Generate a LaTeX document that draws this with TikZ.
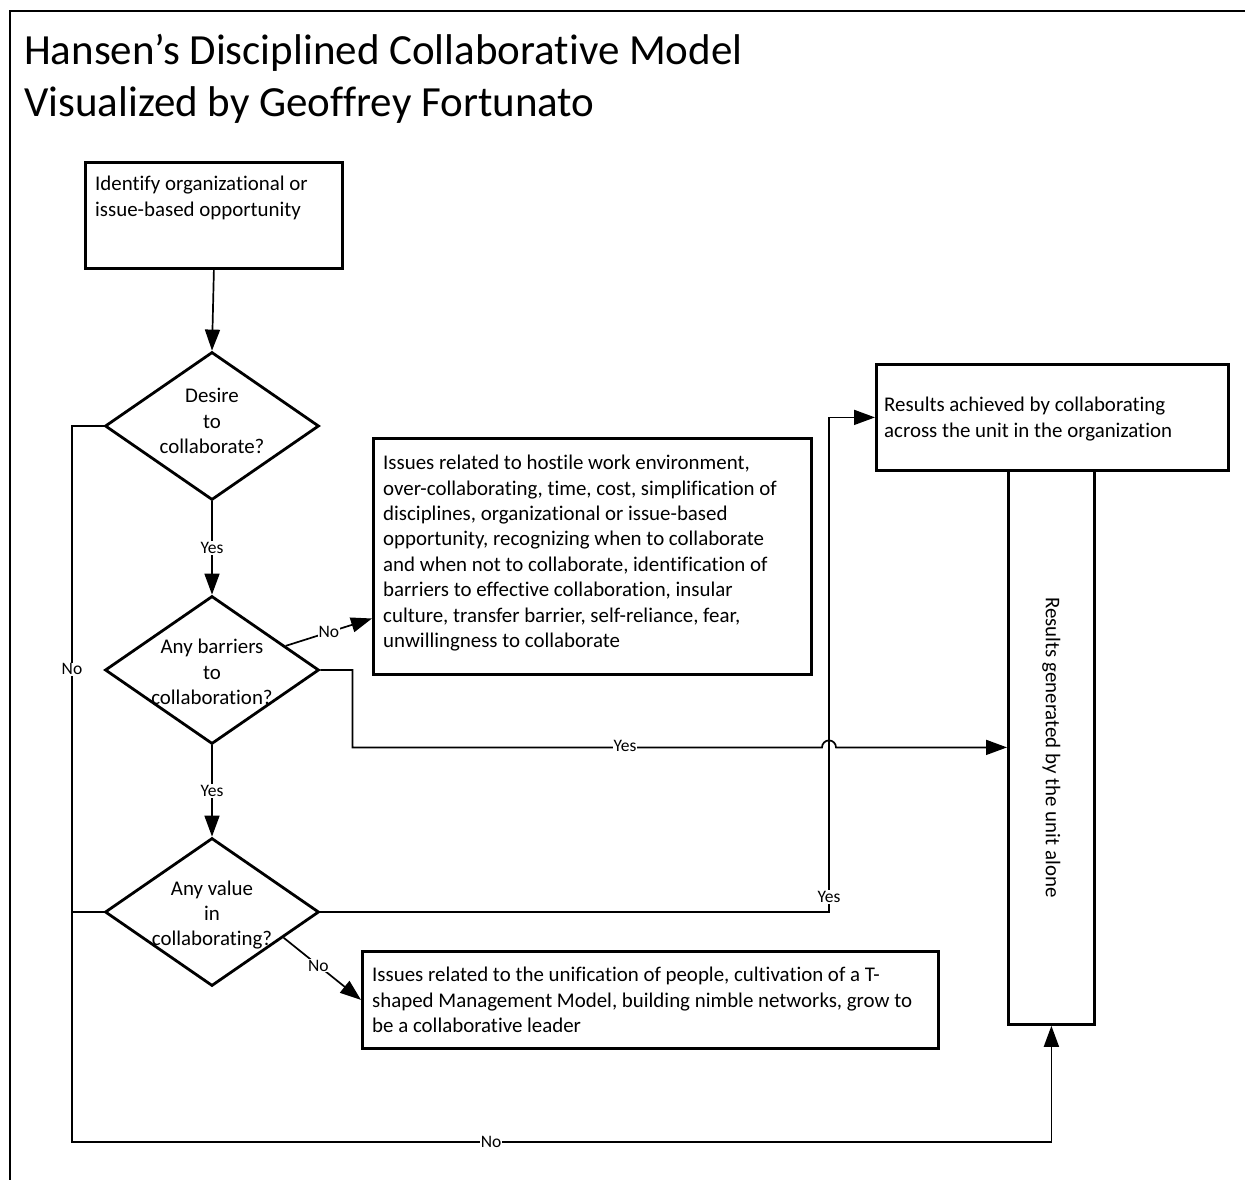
\documentclass[tikz,border=0pt]{standalone}
\usepackage{fontspec}
\setmainfont{Carlito}[Ligatures=NoCommon]
\usetikzlibrary{shapes.geometric,arrows.meta,calc}

\begin{document}
\begin{tikzpicture}[x=1pt,y=-1pt,
  box/.style={draw,line width=2.8pt,rectangle,anchor=north west,inner sep=0pt},
  decision/.style={draw,line width=2.8pt,diamond,minimum width=214pt,minimum height=148pt,inner sep=0pt},
  txt/.style={font=\fontsize{20.9}{25.4}\selectfont,align=left,anchor=north west,inner sep=0pt},
  dtxt/.style={font=\fontsize{20.9}{25.4}\selectfont,align=center,inner sep=0pt},
  conn/.style={line width=1.7pt},
  arr/.style={conn,-{Triangle[length=21pt,width=15pt]}},
  lbl/.style={font=\fontsize{17.5}{20}\selectfont,fill=white,inner sep=1pt}]
\useasboundingbox (0,0) rectangle (1245,1180);
\draw[line width=2pt] (10,1180) -- (10,11) -- (1245,11);

\node[anchor=north west,align=left,inner sep=0pt,font=\fontsize{43}{52}\selectfont] (title) at (24,34)
  {Hansen’s Disciplined Collaborative Model\\Visualized by Geoffrey Fortunato};

% boxes
\node[box,minimum width=257pt,minimum height=106pt] (ident) at (84,161) {};
\node[txt] (identtxt) at (95,176) {Identify organizational or\\issue-based opportunity};

\node[box,minimum width=438pt,minimum height=236pt] (barr) at (372,437) {};
\node[txt] (barrtxt) at (383,455) {Issues related to hostile work environment,\\over-collaborating, time, cost, simplification of\\disciplines, organizational or issue-based\\opportunity, recognizing when to collaborate\\and when not to collaborate, identification of\\barriers to effective collaboration, insular\\culture, transfer barrier, self-reliance, fear,\\unwillingness to collaborate};

\node[box,minimum width=352pt,minimum height=106pt] (res) at (875,363) {};
\node[txt] (restxt) at (884,397) {Results achieved by collaborating\\across the unit in the organization};

\node[box,minimum width=86pt,minimum height=554pt] (tall) at (1007,469) {};
\node[dtxt,rotate=-90] (talltxt) at (tall.center) {Results generated by the unit alone};

\node[box,minimum width=576pt,minimum height=97pt] (unif) at (361,950) {};
\node[txt] (uniftxt) at (372,967) {Issues related to the unification of people, cultivation of a T-\\shaped Management Model, building nimble networks, grow to\\be a collaborative leader};

% decisions
\node[decision] (d1) at (212,426) {};
\node[dtxt] (d1txt) at (212,421) {Desire\\to\\collaborate?};
\node[decision] (d2) at (212,670) {};
\node[dtxt] (d2txt) at (212,672) {Any barriers\\to\\collaboration?};
\node[decision] (d3) at (212,912) {};
\node[dtxt] (d3txt) at (212,915) {Any value\\in\\collaborating?};

\coordinate (bend) at (829,912);
\coordinate (nobot) at (72,1142);

% connectors
\draw[arr] (ident.south) -- (d1.north);
\draw[arr] (d1.south) -- node[lbl]{Yes} (d2.north);
\draw[arr] (d2.south) -- node[lbl]{Yes} (d3.north);
\draw[arr] ($(d2.north)!0.68!(d2.east)$) -- node[lbl]{No} ($(barr.north west)!0.76!(barr.south west)$);
\draw[arr] ($(d3.east)!0.34!(d3.south)$) -- node[lbl,pos=0.45]{No} (unif.west);
\draw[arr] (d3.east) -- (bend) -- node[lbl,pos=0.03]{Yes} (bend |- res.west) -- (res.west);
\draw[arr] (d2.east) -- ++(32,0) |- ($(bend |- tall.west)+(-7,0)$) arc[start angle=180,end angle=0,radius=7pt] -- (tall.west)
  node[lbl] at (625,746) {Yes};
\draw[arr] (d1.west) -| node[lbl,pos=0.67]{No} (nobot) -| node[lbl,pos=0.214]{No} (tall.south);
\draw[conn] (d3.west) -- (d3.west -| nobot);

\end{tikzpicture}
\end{document}
